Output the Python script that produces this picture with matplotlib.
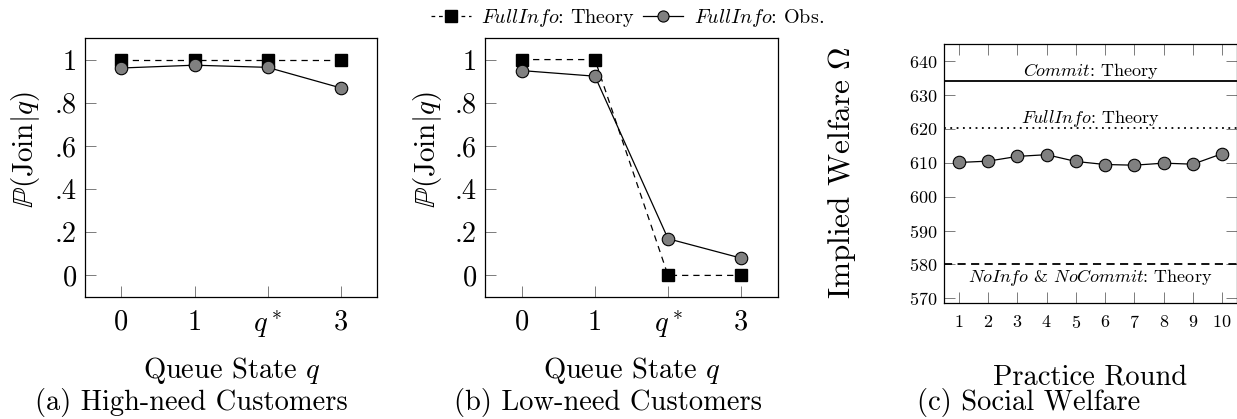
import matplotlib
matplotlib.use('Agg')
import matplotlib.pyplot as plt
from matplotlib.lines import Line2D

plt.rcParams['font.family'] = 'cmr10'
plt.rcParams['mathtext.fontset'] = 'cm'
plt.rcParams['axes.unicode_minus'] = False
plt.rcParams['axes.formatter.use_mathtext'] = True

# dados
queue_states = [0, 1, 2, 3]
queue_labels = ['0', '1', '$q^*$', '3']
prob_ticks = [0, 0.2, 0.4, 0.6, 0.8, 1]
prob_labels = ['0', '.2', '.4', '.6', '.8', '1']

high_theory = [1, 1, 1, 1]
high_obs = [0.961, 0.974, 0.964, 0.869]
low_theory = [1, 1, 0, 0]
low_obs = [0.949, 0.923, 0.170, 0.080]

rounds = [1, 2, 3, 4, 5, 6, 7, 8, 9, 10]
welfare_obs = [610.1, 610.5, 611.9, 612.4, 610.4, 609.5, 609.3, 609.9, 609.6, 612.7]
welfare_ticks = [570, 580, 590, 600, 610, 620, 630, 640]
commit_theory = 634.1
fullinfo_theory = 620.4
noinfo_theory = 580.0

cinza = '#808080'
cor_tick = '#666666'
tam_rotulo = 20.5

fig = plt.figure(figsize=(12.37, 4.19), dpi=100)

def painel_fila(pos, teoria, obs, legenda_x, legenda_y, titulo, titulo_x, ylabel_x):
    ax = fig.add_axes(pos)
    ax.plot(queue_states, teoria, color='black', lw=0.9, ls=(0, (5, 4)),
            marker='s', ms=9, mfc='black', mec='black', zorder=3)
    ax.plot(queue_states, obs, color='black', lw=0.9, ls='-',
            marker='o', ms=9, mfc=cinza, mec='black', mew=0.8, zorder=4)
    ax.set_xlim(-0.5, 3.5)
    ax.set_ylim(-0.1, 1.1)
    ax.set_xticks(queue_states)
    ax.set_xticklabels(queue_labels)
    ax.set_yticks(prob_ticks)
    ax.set_yticklabels(prob_labels)
    ax.tick_params(direction='in', length=8, width=0.6, color=cor_tick,
                   labelsize=20.5, pad=6)
    ax.tick_params(axis='x', pad=9)
    for s in ax.spines.values():
        s.set_linewidth(0.9)
    fig.text(ylabel_x, pos[1] + pos[3] * 0.57, r'$\mathbb{P}(\mathrm{Join}|q)$',
             rotation=90, ha='center', va='center', fontsize=21)
    fig.text(legenda_x, legenda_y, 'Queue State $q$', ha='center', va='center', fontsize=tam_rotulo)
    fig.text(titulo_x, 0.04, titulo, ha='center', va='center', fontsize=tam_rotulo)
    return ax

painel_fila([0.0687, 0.2912, 0.2361, 0.6181], high_theory, high_obs,
            232 / 1237, 1 - 371 / 419, '(a) High-need Customers', 191 / 1237, 25 / 1237)
painel_fila([0.3923, 0.2912, 0.2364, 0.6181], low_theory, low_obs,
            632 / 1237, 1 - 371 / 419, '(b) Low-need Customers', 608 / 1237, 427 / 1237)

# painel (c) bem-estar social
ax = fig.add_axes([0.7634, 0.2776, 0.2364, 0.6167])
ax.axhline(commit_theory, color='black', lw=1.3, ls='-')
ax.axhline(fullinfo_theory, color='black', lw=1.3, ls=(0, (1, 2.5)))
ax.axhline(noinfo_theory, color='black', lw=1.3, ls=(0, (4.5, 3)))
ax.plot(rounds, welfare_obs, color='black', lw=0.9, marker='o', ms=9,
        mfc=cinza, mec='black', mew=0.8, zorder=4)
ax.text(5.5, commit_theory + 2.95, r'$\mathit{Commit}$: Theory', ha='center', va='center', fontsize=13)
ax.text(5.5, fullinfo_theory + 2.8, r'$\mathit{FullInfo}$: Theory', ha='center', va='center', fontsize=13)
ax.text(5.5, noinfo_theory - 3.9, r'$\mathit{NoInfo}$ & $\mathit{NoCommit}$: Theory',
        ha='center', va='center', fontsize=13)
ax.set_xlim(0.5, 10.5)
ax.set_ylim(568.7, 645)
ax.set_xticks(rounds)
ax.set_yticks(welfare_ticks)
ax.tick_params(direction='in', length=8, width=0.6, color=cor_tick, labelsize=13,
               top=True, right=True, pad=5)
ax.tick_params(axis='x', pad=8)
for s in ax.spines.values():
    s.set_linewidth(0.9)
fig.text(842 / 1237, 1 - 173 / 419, r'Implied Welfare $\Omega$', rotation=90,
         ha='center', va='center', fontsize=22.5)
fig.text(1090 / 1237, 1 - 377 / 419, 'Practice Round', ha='center', va='center', fontsize=tam_rotulo)
fig.text(917 / 1237, 0.04, '(c) Social Welfare', ha='left', va='center', fontsize=tam_rotulo)

# legenda comum
handles = [
    Line2D([], [], color='black', lw=0.9, ls=(0, (3, 3)), marker='s', ms=8, mfc='black', mec='black'),
    Line2D([], [], color='black', lw=0.9, ls='-', marker='o', ms=8, mfc=cinza, mec='black', mew=0.8),
]
fig.legend(handles, [r'$\mathit{FullInfo}$: Theory', r'$\mathit{FullInfo}$: Obs.'],
           loc='center', bbox_to_anchor=(0.507, 0.957), ncol=2, frameon=False,
           fontsize=14.5, handlelength=2.0, handletextpad=0.5, columnspacing=0.4)

fig.savefig('out.png', dpi=100)
